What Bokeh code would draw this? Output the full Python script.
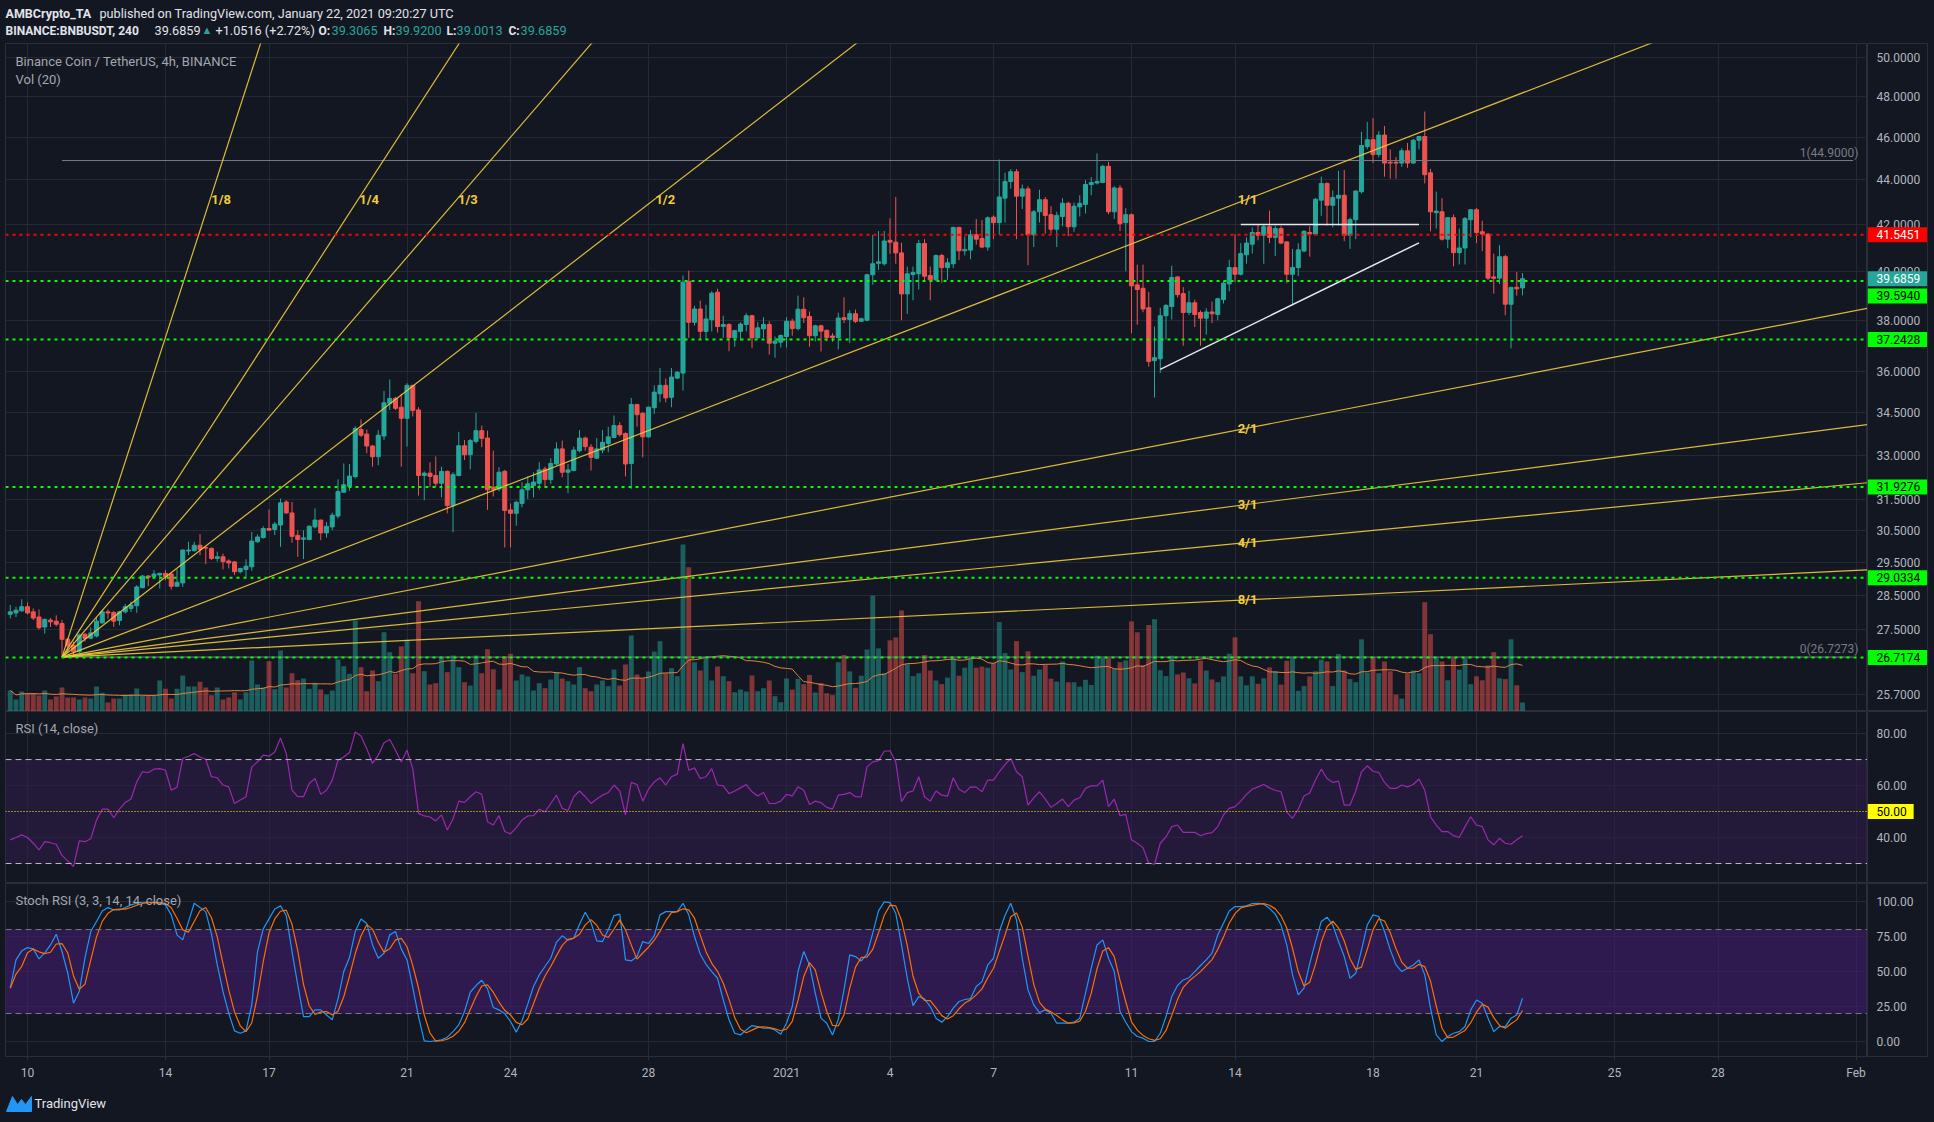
import numpy as np
import pandas as pd
from bokeh.plotting import figure
from bokeh.layouts import column, row
from bokeh.models import (Range1d, LinearScale, FixedTicker, Grid, Label, Span,
                          BoxAnnotation, ColumnDataSource, PrintfTickFormatter)
from bokeh.core.properties import value
from bokeh.embed import file_html
from bokeh.resources import INLINE

# ------------------------------------------------------------------ data
candle_start = "2020-12-09 12:00"          # first 4h candle (BNB/USDT, Binance)

opens = [
    27.95, 27.99, 28.05, 28.17, 28.02, 27.87, 27.58, 27.78, 27.75, 27.68,
    27.23, 27.06, 26.88, 27.37, 27.26, 27.32, 27.70, 28.02, 28.00, 27.77,
    28.02, 28.12, 28.20, 28.74, 29.09, 29.07, 29.12, 29.17, 29.15, 28.78,
    28.88, 29.86, 29.87, 30.04, 29.97, 29.94, 29.63, 29.68, 29.55, 29.52,
    29.22, 29.29, 29.37, 30.15, 30.28, 30.57, 30.54, 30.68, 31.43, 31.07,
    30.35, 30.23, 30.22, 30.62, 30.84, 30.43, 30.62, 30.97, 31.75, 31.95,
    32.27, 33.90, 33.74, 33.32, 32.95, 33.67, 34.84, 35.02, 34.70, 34.30,
    35.50, 34.60, 32.31, 32.39, 32.31, 32.05, 32.45, 31.31, 32.31, 33.33,
    33.02, 33.48, 33.86, 33.60, 31.92, 31.86, 32.45, 31.17, 31.06, 31.38,
    31.83, 31.97, 32.05, 32.53, 32.17, 32.70, 33.22, 32.42, 32.48, 33.16,
    33.60, 33.28, 32.90, 33.18, 33.41, 33.62, 34.04, 33.76, 32.72, 34.80,
    34.48, 33.64, 34.68, 35.19, 35.50, 35.06, 35.77, 35.96, 39.58, 37.92,
    38.45, 37.56, 38.02, 39.13, 37.75, 37.83, 37.31, 37.56, 37.83, 38.18,
    37.31, 37.66, 37.83, 37.10, 37.14, 37.36, 37.96, 37.67, 38.44, 38.15,
    37.39, 37.78, 37.60, 37.38, 37.32, 38.10, 38.03, 38.26, 37.96, 38.00,
    39.85, 40.33, 40.31, 41.31, 41.23, 40.77, 39.06, 39.86, 39.89, 41.17,
    39.82, 39.64, 40.66, 40.15, 40.31, 41.87, 40.86, 40.89, 41.55, 41.39,
    41.02, 42.32, 42.08, 43.17, 43.93, 44.38, 43.26, 43.59, 41.55, 42.56,
    43.10, 42.43, 41.79, 42.35, 42.94, 41.90, 42.78, 42.89, 43.79, 43.86,
    43.88, 44.63, 42.56, 43.63, 42.08, 42.43, 39.43, 39.29, 38.50, 36.43,
    36.50, 38.18, 38.55, 39.76, 39.07, 38.31, 38.70, 38.31, 38.08, 38.33,
    38.23, 38.83, 39.47, 40.15, 39.87, 40.69, 41.14, 41.65, 41.53, 41.90,
    41.44, 41.82, 41.24, 39.87, 40.15, 40.85, 41.65, 41.58, 43.08, 43.84,
    42.85, 43.17, 43.30, 41.53, 42.21, 43.46, 45.56, 45.89, 45.18, 46.11,
    44.82, 44.82, 44.78, 45.36, 44.78, 45.86, 46.04, 44.33, 42.52, 42.56,
    41.36, 42.30, 40.78, 40.98, 42.21, 42.65, 41.68, 41.58, 39.76, 39.71,
    40.61, 38.64, 39.33, 39.3065]

highs = [
    28.22, 28.17, 28.39, 28.30, 28.12, 28.09, 27.83, 27.84, 27.92, 27.78,
    27.26, 27.16, 27.39, 27.41, 27.57, 27.87, 28.09, 28.09, 28.05, 28.05,
    28.25, 28.32, 28.81, 29.12, 29.12, 29.27, 29.19, 29.27, 29.17, 29.29,
    29.91, 30.15, 30.15, 30.39, 30.01, 29.97, 29.84, 29.78, 29.60, 29.55,
    29.34, 29.60, 30.46, 30.38, 30.64, 31.18, 30.78, 31.54, 31.49, 31.43,
    30.51, 30.51, 30.67, 31.22, 30.86, 30.78, 31.08, 32.18, 32.72, 32.70,
    34.02, 34.26, 33.90, 33.36, 33.88, 35.30, 35.72, 35.08, 35.19, 35.58,
    35.52, 34.70, 32.45, 32.76, 32.96, 32.61, 32.48, 32.42, 33.82, 33.53,
    33.57, 34.49, 34.04, 33.86, 33.16, 32.59, 32.50, 31.38, 31.47, 32.09,
    32.28, 32.42, 32.76, 32.61, 32.90, 33.45, 33.51, 32.70, 33.30, 33.88,
    33.65, 33.39, 33.60, 33.88, 34.00, 34.40, 34.16, 33.80, 35.04, 34.82,
    34.52, 34.72, 35.50, 36.15, 35.75, 36.15, 36.03, 39.82, 40.02, 38.58,
    38.79, 38.62, 39.17, 39.27, 38.18, 37.88, 37.62, 37.92, 38.28, 38.22,
    37.92, 38.12, 37.96, 37.36, 37.44, 38.12, 38.06, 38.99, 38.92, 38.35,
    37.82, 37.82, 37.63, 37.49, 38.30, 38.92, 38.40, 38.43, 38.10, 39.89,
    41.55, 41.71, 41.71, 42.27, 43.22, 41.20, 40.19, 40.19, 41.33, 41.36,
    40.19, 40.70, 40.73, 40.55, 41.90, 41.90, 41.48, 41.76, 42.24, 42.19,
    42.35, 42.40, 44.95, 44.33, 44.50, 44.50, 43.79, 43.71, 42.64, 43.55,
    43.22, 42.81, 42.56, 43.17, 43.01, 42.97, 43.30, 43.99, 44.13, 45.24,
    44.70, 44.84, 43.71, 43.76, 42.72, 42.48, 40.27, 40.27, 39.14, 37.75,
    38.50, 38.65, 40.23, 39.79, 39.34, 39.19, 38.83, 38.39, 38.48, 38.75,
    38.91, 39.60, 40.48, 41.58, 41.19, 41.44, 41.87, 41.99, 41.99, 42.61,
    41.95, 41.92, 41.27, 40.94, 41.19, 41.75, 41.92, 43.17, 44.15, 43.88,
    43.52, 44.42, 44.46, 42.30, 43.52, 46.27, 46.75, 46.93, 46.30, 46.55,
    45.43, 45.06, 45.48, 45.73, 45.93, 46.08, 47.26, 44.51, 43.47, 43.17,
    42.33, 42.44, 41.82, 42.33, 42.68, 42.73, 42.16, 41.61, 40.74, 41.10,
    40.69, 39.33, 39.97, 39.92]

lows = [
    27.83, 27.87, 28.02, 27.95, 27.78, 27.51, 27.39, 27.58, 27.60, 26.7273,
    26.85, 26.79, 26.83, 27.16, 27.23, 27.28, 27.68, 27.82, 27.58, 27.63,
    27.97, 28.02, 27.99, 28.71, 28.78, 29.05, 28.71, 28.96, 28.68, 28.76,
    28.76, 29.73, 29.84, 29.73, 29.45, 29.58, 29.53, 29.29, 29.32, 29.12,
    29.17, 29.05, 29.25, 30.12, 30.25, 30.49, 30.36, 29.99, 31.05, 30.12,
    29.68, 29.61, 30.20, 30.57, 30.20, 30.28, 30.52, 30.89, 31.74, 31.80,
    32.21, 33.64, 33.07, 32.61, 32.66, 33.53, 34.60, 34.60, 32.61, 33.30,
    34.37, 31.64, 31.49, 31.92, 31.92, 31.58, 31.06, 30.45, 32.28, 32.84,
    32.52, 33.41, 33.28, 31.17, 31.61, 31.78, 29.97, 29.97, 30.66, 31.25,
    31.53, 31.58, 31.83, 31.92, 32.03, 32.65, 32.25, 31.72, 32.45, 33.10,
    33.16, 32.48, 32.87, 33.07, 33.10, 33.62, 33.65, 32.28, 31.86, 34.00,
    32.93, 33.62, 34.46, 34.88, 34.88, 34.70, 35.75, 35.31, 37.31, 37.79,
    37.27, 37.23, 37.56, 37.52, 37.31, 36.79, 36.96, 37.20, 37.56, 36.91,
    37.27, 37.31, 36.66, 36.54, 36.93, 36.93, 37.39, 37.60, 37.89, 36.96,
    37.17, 36.78, 37.17, 37.15, 36.86, 37.89, 37.10, 37.89, 37.93, 37.96,
    39.44, 40.05, 40.23, 40.73, 40.31, 38.00, 38.25, 38.80, 39.24, 39.59,
    38.80, 39.59, 39.52, 39.64, 40.12, 40.46, 40.66, 40.50, 41.12, 40.97,
    40.86, 41.36, 41.55, 42.08, 43.59, 41.36, 42.68, 40.25, 41.02, 42.08,
    41.60, 41.60, 41.02, 41.92, 41.49, 41.68, 42.35, 42.48, 43.30, 43.79,
    43.85, 42.45, 42.24, 41.71, 40.00, 37.49, 37.82, 38.32, 36.20, 35.05,
    35.96, 37.24, 38.03, 38.91, 37.00, 38.20, 37.73, 37.00, 37.43, 37.89,
    38.00, 38.67, 39.17, 39.54, 39.82, 40.31, 40.74, 41.31, 40.31, 41.19,
    40.64, 41.14, 39.50, 38.62, 39.79, 40.80, 40.61, 41.53, 42.38, 41.95,
    41.87, 41.95, 41.27, 40.94, 41.36, 43.38, 45.43, 44.78, 45.05, 44.15,
    44.06, 44.06, 44.60, 44.56, 44.75, 45.43, 43.84, 41.70, 41.82, 41.30,
    40.97, 40.20, 40.28, 40.28, 41.44, 41.19, 40.85, 39.63, 39.07, 39.46,
    38.20, 36.90, 38.99, 39.0013]

closes = [
    28.02, 28.07, 28.17, 27.99, 27.84, 27.56, 27.80, 27.73, 27.66, 27.23,
    27.04, 26.88, 27.35, 27.25, 27.41, 27.75, 28.02, 27.99, 27.75, 28.02,
    28.17, 28.22, 28.76, 29.09, 29.05, 29.15, 29.17, 29.07, 28.78, 28.90,
    29.89, 29.89, 30.04, 29.91, 29.95, 29.63, 29.68, 29.53, 29.49, 29.22,
    29.32, 29.39, 30.17, 30.30, 30.57, 30.52, 30.71, 31.40, 31.07, 30.32,
    30.22, 30.27, 30.64, 30.84, 30.43, 30.64, 31.00, 31.77, 32.00, 32.29,
    33.94, 33.70, 33.32, 32.95, 33.70, 34.86, 35.02, 34.66, 34.30, 35.50,
    34.58, 32.31, 32.39, 32.28, 32.05, 32.45, 31.31, 32.34, 33.33, 33.02,
    33.51, 33.86, 33.59, 31.83, 31.85, 32.42, 31.15, 31.06, 31.42, 31.83,
    32.03, 32.09, 32.50, 32.17, 32.72, 33.22, 32.42, 32.50, 33.18, 33.60,
    33.30, 32.93, 33.22, 33.45, 33.64, 34.04, 33.72, 32.70, 34.80, 34.43,
    33.64, 34.70, 35.25, 35.50, 35.04, 35.81, 35.99, 39.54, 37.92, 38.45,
    37.56, 38.05, 39.09, 37.75, 37.83, 37.31, 37.59, 37.85, 38.18, 37.31,
    37.70, 37.83, 37.10, 37.18, 37.40, 37.96, 37.67, 38.44, 38.10, 37.39,
    37.78, 37.57, 37.32, 37.32, 38.09, 38.03, 38.26, 37.96, 38.06, 39.85,
    40.31, 40.39, 41.28, 41.23, 40.77, 39.06, 39.89, 39.94, 41.17, 39.79,
    39.64, 40.66, 40.15, 40.35, 41.87, 40.86, 40.92, 41.55, 41.36, 41.02,
    42.29, 42.08, 43.22, 43.93, 44.38, 43.26, 43.59, 41.55, 42.56, 43.10,
    42.40, 41.79, 42.40, 42.94, 41.90, 42.81, 42.94, 43.79, 43.88, 43.93,
    44.63, 42.56, 43.63, 42.03, 42.43, 39.39, 39.24, 38.45, 36.40, 36.54,
    38.18, 38.59, 39.74, 39.03, 38.31, 38.70, 38.23, 38.08, 38.33, 38.26,
    38.86, 39.50, 40.15, 39.87, 40.74, 41.19, 41.65, 41.53, 41.90, 41.44,
    41.82, 41.19, 39.87, 40.15, 40.90, 41.70, 41.58, 43.12, 43.84, 42.85,
    43.20, 43.30, 41.53, 42.21, 43.49, 45.61, 45.89, 45.18, 46.11, 44.78,
    44.78, 44.78, 45.36, 44.78, 45.86, 46.04, 44.24, 42.56, 42.59, 41.36,
    42.30, 40.78, 40.98, 42.26, 42.65, 41.65, 41.58, 39.71, 39.70, 40.61,
    38.64, 39.33, 39.27, 39.6859]

# volume, thousand BNB per 4h candle (relative heights)
volume = [
    21, 12, 20, 18.3, 18.3, 16, 21, 12, 15, 24,
    14, 14, 12, 14, 13, 25, 18.7, 9, 13, 13,
    17, 17, 23, 15.7, 15.7, 15.7, 31, 22.7, 13, 22.7,
    36, 25, 25, 29.7, 24, 16.3, 24, 12, 14, 19.3,
    12, 19.3, 51, 27, 24, 50.3, 22.3, 61, 24, 38.3,
    31.3, 33, 22.7, 28.7, 22, 17, 21, 52, 45.3, 37.7,
    91, 44.3, 20.3, 41, 30.3, 79.3, 59.3, 37.7, 65, 71.7,
    38.3, 110.3, 40.3, 27, 28.3, 54.3, 39.3, 56, 44.3, 29.3,
    26, 56, 38.3, 62.3, 42.3, 22, 55, 57.7, 31, 37,
    35, 21, 28.3, 23.3, 32, 39.3, 33, 30.3, 27, 44.3,
    23.3, 20.3, 27, 31, 25.3, 42, 26, 47, 76, 37,
    33.3, 40, 60, 70.3, 38.3, 43.3, 35.3, 167, 144.3, 49.3,
    41, 53.7, 31, 45, 35.3, 30.3, 19.3, 22, 20, 36,
    20.3, 23.3, 31, 15.3, 9.3, 33, 21.9, 32.8, 27.4, 36.5,
    19, 28.5, 18.2, 16.4, 49.3, 56.5, 40.1, 23.7, 35.8, 62,
    116, 63.1, 38.3, 71.1, 74.1, 101.1, 47.4, 35.4, 38.3, 56.5,
    40.9, 31, 27.4, 33.9, 53.6, 35.8, 43.8, 52.9, 43.8, 44.9,
    43.8, 48.5, 89.4, 58.4, 42, 70.4, 39.4, 60.2, 35.8, 42,
    46.7, 32.8, 29.9, 50, 29.2, 29.2, 24.8, 31.7, 26.6, 55.8,
    53.6, 53.6, 42.7, 49.3, 51.1, 90.1, 79.2, 46.3, 86.5, 92.3,
    41.2, 35.4, 55.8, 37.1, 39, 33.2, 28.1, 50.7, 41, 32,
    29.3, 35.1, 57.8, 74.2, 35.1, 26.2, 35.1, 27.7, 33.2, 44.1,
    40.2, 26.9, 50.7, 54.6, 20.7, 25.4, 35.1, 40.2, 51.9, 50,
    25.4, 57.4, 41, 32.4, 29.3, 72.2, 39, 54.6, 38.3, 50,
    40.2, 16.8, 12.9, 37.9, 41, 38.3, 109.3, 77.3, 54.6, 50,
    31.2, 53.9, 41.8, 53.9, 27.3, 35.1, 31.2, 46.1, 59.3, 33.2,
    32.4, 72.2, 26.2, 9]

rsi = [
    39.1, 40.0, 41.0, 40.0, 37.8, 35.2, 38.4, 38.0, 37.4, 33.1,
    31.0, 28.8, 38.7, 38.4, 39.5, 46.7, 50.9, 50.9, 47.6, 50.9,
    53.5, 54.8, 61.4, 65.3, 65.0, 66.3, 66.5, 65.9, 58.2, 59.4,
    70.4, 71.3, 72.3, 71.0, 70.1, 63.4, 63.0, 60.2, 59.5, 53.1,
    54.4, 55.7, 67.2, 69.1, 71.7, 71.3, 72.9, 78.3, 72.3, 58.2,
    55.7, 55.7, 60.8, 62.7, 56.6, 58.2, 62.1, 69.7, 71.0, 72.7,
    80.6, 79.1, 74.2, 68.5, 71.7, 76.5, 77.7, 73.6, 69.1, 73.6,
    66.5, 49.3, 48.3, 47.9, 46.4, 48.7, 42.9, 47.1, 54.0, 53.5,
    55.7, 57.6, 56.6, 46.1, 44.8, 48.4, 42.3, 41.4, 43.8, 46.7,
    48.3, 48.4, 50.9, 49.9, 53.1, 56.3, 51.2, 50.4, 55.7, 57.9,
    55.7, 53.1, 54.8, 56.3, 57.3, 60.2, 57.9, 48.7, 61.2, 60.4,
    54.0, 58.6, 61.4, 63.0, 60.2, 63.4, 64.4, 76.1, 65.9, 66.8,
    62.7, 63.4, 66.5, 60.2, 59.9, 56.9, 57.9, 59.1, 60.4, 57.6,
    56.0, 57.3, 53.1, 53.1, 54.0, 56.6, 56.0, 59.5, 58.2, 52.7,
    54.0, 53.4, 51.6, 50.9, 56.3, 56.6, 57.3, 55.7, 55.6, 67.2,
    69.1, 69.6, 73.2, 73.4, 69.1, 53.8, 57.3, 57.9, 63.4, 55.7,
    54.0, 57.9, 56.3, 55.9, 63.0, 58.6, 57.3, 59.5, 59.4, 57.6,
    62.1, 62.1, 65.3, 68.1, 70.4, 65.3, 63.4, 52.5, 55.3, 57.6,
    54.8, 51.6, 53.1, 54.8, 51.9, 54.4, 55.3, 58.9, 59.9, 59.9,
    62.1, 51.9, 54.8, 48.4, 48.9, 39.1, 37.8, 36.1, 30.1, 29.7,
    37.8, 40.3, 44.2, 44.8, 42.0, 42.0, 42.0, 40.7, 41.5, 41.9,
    44.2, 48.7, 51.2, 51.9, 54.0, 56.6, 58.6, 59.5, 60.4, 59.1,
    58.2, 57.6, 49.9, 47.4, 50.9, 56.0, 57.1, 62.1, 66.3, 62.7,
    61.2, 61.7, 52.5, 52.5, 57.9, 65.3, 67.6, 65.5, 65.0, 61.2,
    58.9, 58.9, 60.2, 59.5, 60.4, 62.5, 58.2, 48.0, 44.8, 42.3,
    42.3, 40.7, 40.0, 44.2, 48.0, 44.8, 44.2, 39.1, 37.2, 39.7,
    37.8, 37.4, 39.1, 40.7]

stoch_k = [
    38.1, 58.3, 64.8, 67.1, 66.2, 59.0, 63.3, 69.0, 76.7, 64.3,
    48.8, 27.4, 35.7, 60.0, 78.6, 85.7, 93.3, 95.7, 94.0, 94.0,
    95.7, 97.6, 98.8, 99.5, 99.5, 99.3, 98.8, 97.6, 90.5, 76.2,
    72.6, 85.7, 98.8, 95.7, 92.8, 76.7, 54.7, 35.7, 20.2, 7.6,
    5.9, 7.6, 26.2, 64.3, 80.5, 87.6, 94.7, 96.9, 90.0, 64.3,
    40.5, 17.8, 17.8, 22.6, 22.6, 19.0, 15.5, 30.5, 50.0, 60.0,
    78.6, 87.6, 84.3, 69.0, 59.5, 63.1, 76.2, 78.6, 66.2, 58.3,
    38.6, 17.8, 0.5, 0.0, 0.5, 1.2, 3.1, 7.1, 11.9, 21.4,
    35.2, 40.0, 43.8, 37.6, 24.3, 22.6, 20.0, 14.3, 6.7, 14.8,
    26.7, 39.3, 47.6, 53.6, 59.5, 71.0, 75.5, 72.4, 73.8, 83.8,
    92.4, 85.0, 71.9, 71.4, 79.7, 90.0, 91.0, 58.3, 57.6, 60.7,
    71.4, 70.0, 75.7, 90.5, 92.8, 92.8, 92.8, 98.8, 90.5, 75.0,
    62.4, 55.2, 50.0, 45.2, 29.7, 15.5, 5.9, 4.7, 8.3, 11.4,
    10.7, 9.5, 9.5, 8.3, 5.2, 13.1, 25.0, 50.0, 64.3, 54.7,
    34.5, 16.7, 13.1, 4.7, 15.5, 36.9, 61.9, 60.7, 57.6, 62.4,
    77.4, 93.3, 99.8, 99.3, 91.7, 69.0, 45.2, 25.7, 32.1, 30.5,
    25.0, 16.7, 13.8, 17.8, 23.8, 28.6, 30.0, 30.7, 39.3, 42.8,
    54.7, 59.5, 78.6, 90.0, 98.8, 86.9, 59.5, 36.9, 26.2, 20.7,
    22.6, 20.2, 13.1, 13.1, 13.1, 13.8, 16.7, 34.5, 52.4, 69.0,
    72.6, 59.5, 50.0, 21.4, 13.8, 7.1, 3.6, 2.4, 0.0, 0.0,
    5.9, 17.8, 32.1, 40.0, 44.0, 45.6, 50.0, 54.3, 58.3, 63.1,
    76.2, 84.5, 93.3, 96.4, 96.4, 96.9, 98.6, 98.8, 98.1, 95.2,
    91.0, 83.3, 69.0, 47.6, 33.3, 38.1, 55.9, 71.4, 85.7, 88.8,
    83.3, 71.4, 60.7, 45.2, 48.8, 65.5, 83.3, 90.5, 89.3, 78.6,
    65.5, 54.7, 50.0, 52.4, 54.7, 58.3, 47.6, 23.8, 4.7, 0.0,
    3.6, 5.9, 7.1, 10.7, 22.6, 29.7, 27.4, 16.7, 7.1, 10.7,
    10.7, 16.7, 19.0, 30.9]

green_levels = [39.5940, 37.2428, 31.9276, 29.0334, 26.7174]
red_levels = [41.5451]
last_price = 39.6859
fib_start = "2020-12-11 00:00"
fib_end = "2021-01-31 22:00"
fib_levels = [26.7273, 44.9000]
fib_names = ["0(26.7273)", "1(44.9000)"]
fan_origin = ("2020-12-11 00:00", 26.7273)
fan_anchor = ("2021-01-14 08:00", 43.11)
fan_ratios = [8, 4, 3, 2, 1, 1 / 2, 1 / 3, 1 / 4, 1 / 8]
fan_names = ["1/8", "1/4", "1/3", "1/2", "1/1", "2/1", "3/1", "4/1", "8/1"]
trend_line = [("2021-01-11 20:00", 36.10), ("2021-01-19 08:00", 41.20)]
flat_line = [("2021-01-14 04:00", 42.00), ("2021-01-19 08:00", 42.00)]

date_ticks = ["2020-12-10", "2020-12-14", "2020-12-17", "2020-12-21", "2020-12-24",
              "2020-12-28", "2021-01-01", "2021-01-04", "2021-01-07", "2021-01-11",
              "2021-01-14", "2021-01-18", "2021-01-21", "2021-01-25", "2021-01-28",
              "2021-02-01"]
date_labels = ["10", "14", "17", "21", "24", "28", "2021", "4", "7", "11", "14",
               "18", "21", "25", "28", "Feb"]
price_ticks = [50, 48, 46, 44, 42, 40, 38, 36, 34.5, 33, 31.5, 30.5, 29.5, 28.5, 27.5, 25.7]
rsi_ticks = [40, 60, 80]
stoch_ticks = [0, 25, 50, 75, 100]

# ------------------------------------------------------------------ styling
BG = "#131722"
GRID = "#252934"
SEP = "#2a2e39"
TXT = "#b2b5be"
UP = "#26a69a"
DN = "#ef5350"
YEL = "#f2cc3a"
FONT = "Roboto"
FW = 1934
LB = 5
PANE_W = 1867            # chart panes (frame from x=5 to x=1867)
AX_W = FW - PANE_W       # price-scale column (67 px)
AX_RB = 7                # outer border right of the price scale

DAY0 = pd.Timestamp("2020-12-10")


def tday(s):
    return (pd.Timestamp(s) - DAY0) / pd.Timedelta(days=1)


times = pd.date_range(candle_start, periods=len(closes), freq="4h")
t = np.asarray((times - DAY0) / pd.Timedelta(days=1), dtype=float)
o = np.array(opens)
c = np.array(closes)
up = c >= o
col = np.where(up, UP, DN)

vol_ma = pd.Series(volume).rolling(20, min_periods=1).mean().to_numpy()
stoch_d = pd.Series(stoch_k).rolling(3, min_periods=1).mean().to_numpy()

xt = [tday(d) for d in date_ticks]
xr = Range1d(-0.6377, 53.333)


def pane_fig(h, yr, log=False, bottom=0):
    f = figure(width=PANE_W, height=h, x_range=xr, y_range=yr,
               y_axis_type="log" if log else "linear",
               x_axis_location=("below" if bottom else None), y_axis_location=None,
               output_backend="svg", toolbar_location=None,
               min_border_left=LB, min_border_right=0, min_border_top=0,
               min_border_bottom=bottom,
               background_fill_color=BG, border_fill_color=BG,
               outline_line_color=SEP)
    f.xgrid.grid_line_color = None
    f.ygrid.grid_line_color = None
    f.add_layout(Grid(dimension=0, ticker=FixedTicker(ticks=xt), grid_line_color=GRID))
    return f


def scale_fig(h, yr, ticks, fmt, log=False, bottom=0):
    """price-scale column: real y axis whose labels sit inside the 60px strip."""
    a = figure(width=AX_W, height=h, x_range=Range1d(0, 1), y_range=yr,
               y_axis_type="log" if log else "linear",
               x_axis_location=None, y_axis_location="right",
               output_backend="svg", toolbar_location=None,
               min_border_left=0, min_border_right=AX_RB, min_border_top=0,
               min_border_bottom=bottom,
               background_fill_color=BG, border_fill_color=BG,
               outline_line_color=SEP)
    a.xgrid.visible = False
    a.ygrid.visible = False
    ax = a.yaxis[0]
    ax.ticker = FixedTicker(ticks=ticks)
    ax.formatter = PrintfTickFormatter(format=fmt)
    ax.axis_line_color = None
    ax.major_tick_line_color = None
    ax.minor_tick_line_color = None
    ax.major_tick_out = 0
    ax.major_tick_in = 0
    ax.major_label_standoff = -(AX_W - AX_RB - 9)
    ax.major_label_text_color = TXT
    ax.major_label_text_font = FONT
    ax.major_label_text_font_size = "12px"
    return a


def hgrid(f, ticks):
    f.add_layout(Grid(dimension=1, ticker=FixedTicker(ticks=ticks), grid_line_color=GRID))


def tag(a, y, text, bg, fg, yoff=0):
    kw = dict(x=0, y=y, x_units="screen", y_units="data", text=text,
              text_color=fg, text_font=FONT, text_font_size="12px",
              text_align="left", text_baseline="middle",
              background_fill_color=bg, background_fill_alpha=1.0, y_offset=yoff)
    try:
        lab = Label(padding=dict(left=9, right=7, top=3, bottom=3), **kw)
    except Exception:
        kw["x"] = 9
        lab = Label(**kw)
    a.add_layout(lab)


def pane_title(f, text, y_screen):
    f.add_layout(Label(x=10, y=y_screen, x_units="screen", y_units="screen", text=text,
                       text_color="#a3a6af", text_font=FONT, text_font_size="13px",
                       text_baseline="middle"))


# ------------------------------------------------------------------ header
hd = figure(width=FW, height=43, x_range=Range1d(0, FW), y_range=Range1d(43, 0),
            toolbar_location=None, output_backend="svg", min_border=0,
            x_axis_location=None, y_axis_location=None,
            background_fill_color=BG, border_fill_color=BG, outline_line_color=None)
hd.xgrid.visible = False
hd.ygrid.visible = False
WH = "#e1e3ea"


def htext(x, y, s, color=WH, bold=False, size="13px"):
    hd.text(x=[x], y=[y], text=[s], text_color=color, text_font=value(FONT),
            text_font_size=value(size), text_baseline="middle",
            text_font_style="bold" if bold else "normal")


htext(5, 13, "AMBCrypto_TA", bold=True, size="12.5px")
htext(99, 13, "published on TradingView.com, January 22, 2021 09:20:27 UTC", size="12.7px")
htext(5, 30, "BINANCE:BNBUSDT, 240", bold=True, size="12px")
htext(154, 30, f"{closes[-1]:.4f}", size="12.7px")
htext(201, 30, "\u25b2", color=UP, size="11px")
htext(215, 30, "+1.0516 (+2.72%)", size="12.7px")
for lx, lab, vx, val in [(318, "O:", 331, opens[-1]), (383, "H:", 395, highs[-1]),
                         (446, "L:", 456, lows[-1]), (508, "C:", 520, closes[-1])]:
    htext(lx, 30, lab, bold=True, size="12px")
    htext(vx, 30, f"{val:.4f}", color=UP, size="12.7px")

# ------------------------------------------------------------------ main price pane
py = Range1d(25.25, 50.74)
p = pane_fig(668, py, log=True)
pa = scale_fig(668, py, price_ticks, "%.4f", log=True)
hgrid(p, price_ticks)
p.extra_y_ranges = {"vol": Range1d(0, 668)}
p.extra_y_scales = {"vol": LinearScale()}

src = ColumnDataSource(dict(t=t, o=o, h=highs, l=lows, c=c,
                            top=np.maximum(o, c), bot=np.minimum(o, c),
                            col=col, vol=volume, vma=vol_ma))
p.vbar(x="t", width=0.85 / 6, top="vol", bottom=0, fill_color="col", fill_alpha=0.5,
       line_color=None, source=src, y_range_name="vol")
p.line(x="t", y="vma", color="#e0823d", line_width=1, source=src, y_range_name="vol")
p.segment(x0="t", y0="h", x1="t", y1="l", color="col", line_width=1, source=src)
p.vbar(x="t", width=0.7 / 6, top="top", bottom="bot", fill_color="col", line_color="col",
       source=src)

for lv in green_levels:
    p.add_layout(Span(location=lv, dimension="width", line_color="#00ff00",
                      line_width=2, line_dash="3 4"))
for lv in red_levels:
    p.add_layout(Span(location=lv, dimension="width", line_color="#ff0000",
                      line_width=2, line_dash="3 4"))

# fibonacci 0 / 1 levels
fs, fe = tday(fib_start), tday(fib_end)
p.segment(x0=[fs] * 2, y0=fib_levels, x1=[fe] * 2, y1=fib_levels,
          color="#787b86", line_width=1)
p.text(x=[fe + 0.15] * 2, y=fib_levels, text=fib_names, text_color="#787b86",
       text_font=value(FONT), text_font_size=value("12px"), text_align="right",
       text_baseline="bottom", y_offset=-1)

# gann fan
t0, l0 = tday(fan_origin[0]), np.log(fan_origin[1])
t1, l1 = tday(fan_anchor[0]), np.log(fan_anchor[1])
slope = (l1 - l0) / (t1 - t0)
T_END = 60.0
fx1 = [T_END] * len(fan_ratios)
fy1 = [float(np.exp(l0 + r * slope * (T_END - t0))) for r in fan_ratios]
p.segment(x0=[t0] * len(fan_ratios), y0=[fan_origin[1]] * len(fan_ratios), x1=fx1, y1=fy1,
          color=YEL, line_width=1.2, line_alpha=0.9)
lx, ly, lxo = [], [], []
for r in fan_ratios:
    if r > 1:
        lx.append(t0 + (t1 - t0) / r)
        ly.append(fan_anchor[1])
        lxo.append(11)
    else:
        lx.append(t1)
        ly.append(float(np.exp(l0 + r * (l1 - l0))))
        lxo.append(1)
p.text(x=lx, y=ly, text=fan_names, x_offset=lxo, text_color=YEL, text_font=value(FONT),
       text_font_size=value("13px"), text_align="center", text_baseline="middle",
       text_font_style="bold")

# white trend lines
p.segment(x0=[tday(trend_line[0][0]), tday(flat_line[0][0])],
          y0=[trend_line[0][1], flat_line[0][1]],
          x1=[tday(trend_line[1][0]), tday(flat_line[1][0])],
          y1=[trend_line[1][1], flat_line[1][1]],
          color="#e6e8ee", line_width=1.5)

pane_title(p, "Binance Coin / TetherUS, 4h, BINANCE", 668 - 18)
pane_title(p, "Vol (20)", 668 - 36)

tag(pa, red_levels[0], f"{red_levels[0]:.4f}", "#ff0000", "#ffffff")
tag(pa, last_price, f"{last_price:.4f}", UP, "#ffffff")
tag(pa, green_levels[0], f"{green_levels[0]:.4f}", "#00ff00", "#000000", yoff=-15)
for lv in green_levels[1:]:
    tag(pa, lv, f"{lv:.4f}", "#00ff00", "#000000")

# ------------------------------------------------------------------ RSI pane
ry = Range1d(22.3, 88.5)
pr = pane_fig(172, ry)
pra = scale_fig(172, ry, rsi_ticks, "%.2f")
hgrid(pr, rsi_ticks)
pr.add_layout(BoxAnnotation(bottom=30, top=70, fill_color="#2e1c4a", fill_alpha=0.6,
                            line_color=None, level="underlay"))
for lv in (70, 30):
    pr.add_layout(Span(location=lv, dimension="width", line_color="#b8bac2",
                       line_width=1, line_dash="6 4"))
pr.add_layout(Span(location=50, dimension="width", line_color="#ffff00",
                   line_width=1, line_dash="1 2"))
pr.line(t, rsi, color="#9c27b0", line_width=1.2)
pane_title(pr, "RSI (14, close)", 172 - 17)
tag(pra, 50, "50.00", "#ffff00", "#000000")

# ------------------------------------------------------------------ Stoch RSI pane
sy = Range1d(-10.7, 112.9)
ps = pane_fig(202, sy, bottom=29)
psa = scale_fig(202, sy, stoch_ticks, "%.2f", bottom=29)
hgrid(ps, stoch_ticks)
ps.add_layout(BoxAnnotation(bottom=20, top=80, fill_color="#431c6f", fill_alpha=0.6,
                            line_color=None, level="underlay"))
for lv in (80, 20):
    ps.add_layout(Span(location=lv, dimension="width", line_color="#787b86",
                       line_width=1, line_dash="6 4"))
ps.line(t, stoch_k, color="#2196f3", line_width=1.2)
ps.line(t, stoch_d, color="#ff6d00", line_width=1.2)
pane_title(ps, "Stoch RSI (3, 3, 14, 14, close)", 173 - 17)

xa = ps.xaxis[0]
xa.ticker = FixedTicker(ticks=xt)
xa.major_label_overrides = {float(k): v for k, v in zip(xt, date_labels)}
xa.axis_line_color = SEP
xa.major_tick_line_color = SEP
xa.minor_tick_line_color = None
xa.major_tick_out = 4
xa.major_tick_in = 0
xa.major_label_standoff = 5
xa.major_label_text_color = TXT
xa.major_label_text_font = FONT
xa.major_label_text_font_size = "12px"

# ------------------------------------------------------------------ footer
ft = figure(width=FW, height=37, x_range=Range1d(0, FW), y_range=Range1d(37, 0),
            toolbar_location=None, output_backend="svg", min_border=0,
            x_axis_location=None, y_axis_location=None,
            background_fill_color=BG, border_fill_color=BG, outline_line_color=None)
ft.xgrid.visible = False
ft.ygrid.visible = False
ft.patch(x=[6, 12, 17, 21, 25, 31, 31, 6], y=[26, 11, 19, 14, 19, 11, 26, 26],
         fill_color="#2196f3", line_color="#2196f3")
ft.text(x=[34], y=[18], text=["TradingView"], text_color="#e1e3ea",
        text_font=value(FONT), text_font_size=value("13px"), text_baseline="middle")

layout = column(hd, row(p, pa, spacing=0), row(pr, pra, spacing=0),
                row(ps, psa, spacing=0), ft, spacing=0)
try:
    from bokeh.models import GlobalInlineStyleSheet
    layout.stylesheets = [GlobalInlineStyleSheet(
        css="html, body { margin: 0 !important; padding: 0; background: #131722; overflow: hidden; }")]
except Exception:
    pass

open("out.html", "w").write(file_html(layout, INLINE))
